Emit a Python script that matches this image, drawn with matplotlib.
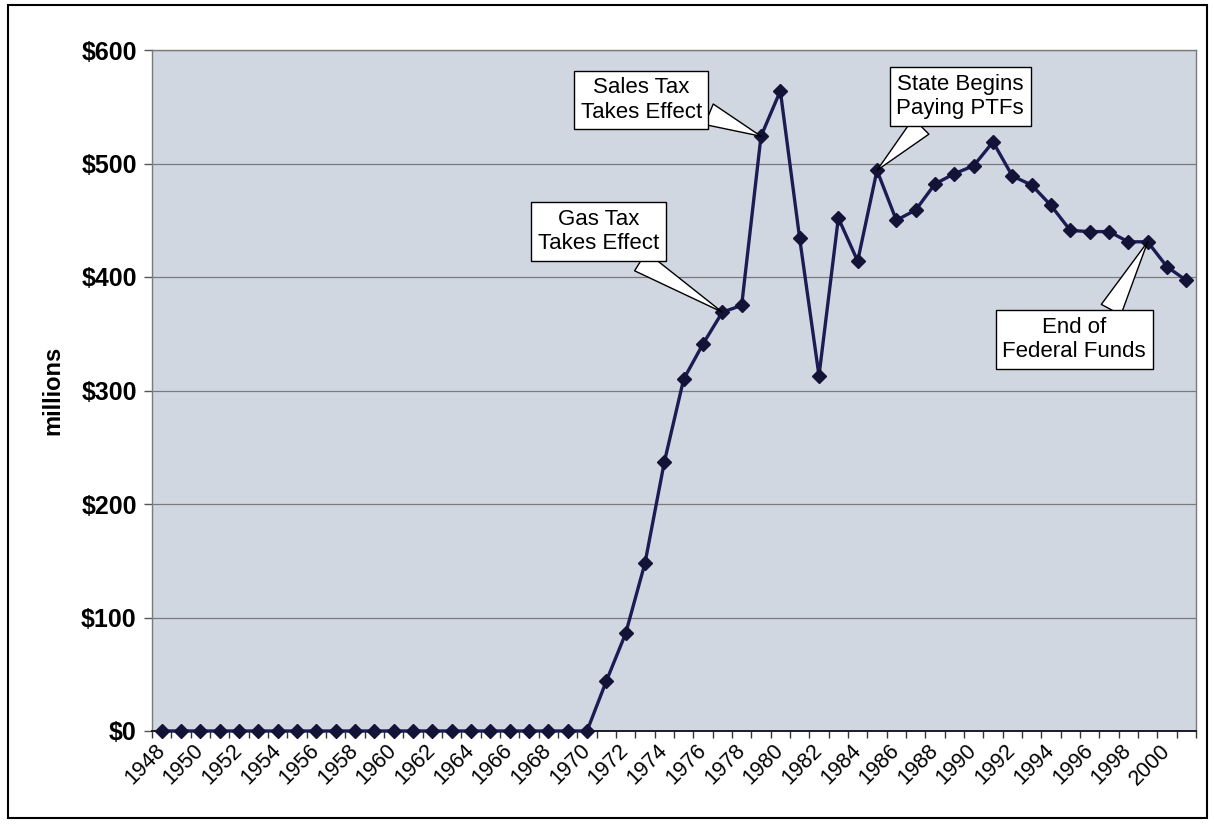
import numpy as np
import matplotlib
matplotlib.use('Agg')
import matplotlib.pyplot as plt
from matplotlib.patches import Rectangle

plt.rcParams['font.family'] = ['Liberation Sans', 'DejaVu Sans']

# Annual funding, $ millions
years = list(range(1948, 2002))
values = [0] * 23 + [
    44, 86, 148, 237, 310, 341, 369, 375, 524, 564,
    434, 313, 452, 414, 494, 450, 459, 482, 491, 498,
    519, 489, 481, 463, 441, 440, 440, 431, 431, 409, 397,
]

y_ticks = [0, 100, 200, 300, 400, 500, 600]
y_labels = ['$0', '$100', '$200', '$300', '$400', '$500', '$600']

# callouts: text, year pointed at, box centre (category index, value), wedge start on box
callouts = [
    ('Sales Tax\nTakes Effect', 1979, (24.8, 556), (1.0, 0.25)),
    ('Gas Tax\nTakes Effect', 1977, (22.6, 440), (0.75, 0.0)),
    ('State Begins\nPaying PTFs', 1985, (41.3, 559), (0.25, 0.0)),
    ('End of\nFederal Funds', 1999, (47.2, 345), (0.73, 1.0)),
]

fig = plt.figure(figsize=(12.14, 8.25), dpi=100)
ax = fig.add_axes([152 / 1214, 94 / 825, 1044 / 1214, 681 / 825])

x = np.arange(len(years))
ax.set_facecolor('#D0D7E1')
ax.plot(x, values, color='#1C1C55', lw=2.4, marker='D', ms=7,
        mfc='#131338', mec='#131338', zorder=4, clip_on=False)

ax.set_xlim(-0.5, len(years) - 0.5)
ax.set_ylim(0, 600)

# y axis
ax.set_yticks(y_ticks)
ax.set_yticklabels(y_labels, fontsize=18, fontweight='bold')
ax.tick_params(axis='y', length=6, width=1, color='#555555', pad=5)
ax.grid(axis='y', color='#7A7A7A', lw=0.9)
ax.set_axisbelow(True)
ax.set_ylabel('millions', fontsize=17, fontweight='bold')
ax.yaxis.set_label_coords(-0.084, 0.5)

# x axis: ticks between categories, labels on every other year
ax.set_xticks(np.arange(-0.5, len(years), 1.0))
ax.set_xticklabels([])
ax.tick_params(axis='x', which='major', length=5, width=1, color='#333333')
ax.set_xticks(x[::2], minor=True)
ax.set_xticklabels([str(y) for y in years[::2]], minor=True, fontsize=15.5,
                   rotation=45, ha='right', va='center', rotation_mode='anchor')
ax.tick_params(axis='x', which='minor', length=0, pad=12)

for side in ['left', 'top', 'right']:
    ax.spines[side].set_color('#7A7A7A')
    ax.spines[side].set_linewidth(1)
ax.spines['bottom'].set_color('#1A1A2A')
ax.spines['bottom'].set_linewidth(1.4)

for text, yr, (bx, by), rel in callouts:
    i = years.index(yr)
    ax.annotate(text, xy=(i, values[i]), xytext=(bx, by), textcoords='data',
                ha='center', va='center', fontsize=16, zorder=6,
                bbox=dict(boxstyle='square,pad=0.3', fc='white', ec='black', lw=1),
                arrowprops=dict(arrowstyle='wedge,tail_width=1.0,shrink_factor=0.5',
                                fc='white', ec='black', lw=1, relpos=rel,
                                shrinkA=0, shrinkB=0))

# frame round the whole chart
fig.patches.append(Rectangle((8 / 1214, 7 / 825), 1199 / 1214, 813 / 825,
                             transform=fig.transFigure, fill=False,
                             ec='black', lw=1.5))

fig.savefig('out.png', dpi=100)
